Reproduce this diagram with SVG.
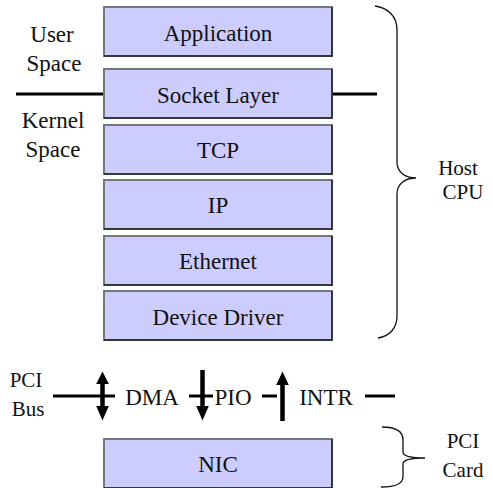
<svg xmlns="http://www.w3.org/2000/svg" width="493" height="488" viewBox="0 0 493 488">
  <style>
    text { font-family: "Liberation Serif", Tinos, "Nimbus Roman", "Nimbus Roman No9 L", "FreeSerif", "Noto Serif", "DejaVu Serif", Times, Georgia, serif; font-size: 23px; fill: #111; }
    .c { text-anchor: middle; }
    .side { font-size: 21px; }
    .box { fill: #ccccff; stroke: #777; stroke-width: 2; }
    .edge { fill: none; stroke: #222; stroke-width: 1.5; }
    .bar { stroke: #000; stroke-width: 3; fill: none; }
    .brace { fill: none; stroke: #111; stroke-width: 1.3; }
    .shaft { stroke: #000; stroke-width: 4.5; }
    .tip { fill: #000; }
  </style>

  <rect width="493" height="488" fill="#fff"/>

  <!-- user/kernel boundary -->
  <g id="boundary">
    <line class="bar" x1="16" y1="94" x2="104" y2="94"/>
    <line class="bar" x1="332" y1="94" x2="377" y2="94"/>
  </g>

  <g id="application">
    <rect class="box" x="104" y="7" width="228" height="49"/>
    <path class="edge" d="M104,56 H332 V7"/>
    <text class="c" x="218" y="41">Application</text>
  </g>
  <g id="socket-layer">
    <rect class="box" x="104" y="69" width="228" height="49"/>
    <path class="edge" d="M104,118 H332 V69"/>
    <text class="c" x="218" y="103">Socket Layer</text>
  </g>
  <g id="tcp">
    <rect class="box" x="104" y="125" width="228" height="49"/>
    <path class="edge" d="M104,174 H332 V125"/>
    <text class="c" x="218" y="158">TCP</text>
  </g>
  <g id="ip">
    <rect class="box" x="104" y="180" width="228" height="49"/>
    <path class="edge" d="M104,229 H332 V180"/>
    <text class="c" x="218" y="213">IP</text>
  </g>
  <g id="ethernet">
    <rect class="box" x="104" y="236" width="228" height="49"/>
    <path class="edge" d="M104,285 H332 V236"/>
    <text class="c" x="218" y="269">Ethernet</text>
  </g>
  <g id="device-driver">
    <rect class="box" x="104" y="291" width="228" height="49"/>
    <path class="edge" d="M104,340 H332 V291"/>
    <text class="c" x="218" y="325">Device Driver</text>
  </g>
  <g id="nic">
    <rect class="box" x="104" y="439" width="228" height="49"/>
    <path class="edge" d="M104,488 H332 V439"/>
    <text class="c" x="218" y="472">NIC</text>
  </g>

  <!-- side labels -->
  <g id="user-space">
    <text class="c" x="52" y="42">User</text>
    <text class="c" x="54" y="71">Space</text>
  </g>
  <g id="kernel-space">
    <text class="c" x="53" y="128">Kernel</text>
    <text class="c" x="53" y="157">Space</text>
  </g>

  <g id="host-cpu">
    <path class="brace" d="M375,6 C388,8 397,16 397,30 V162 C397,172 405,178 416,178 C405,178 397,184 397,194 V316 C397,328 390,336 378,338"/>
    <text class="c side" x="458" y="175">Host</text>
    <text class="c side" x="463" y="199">CPU</text>
  </g>

  <g id="pci-card">
    <path class="brace" d="M382,427 C396,427 403,431 403,440 V452 C403,456 410,458 425,458 C410,458 403,460 403,464 V476 C403,484 396,487 381,487"/>
    <text class="c side" x="463" y="448">PCI</text>
    <text class="c side" x="463" y="477">Card</text>
  </g>

  <g id="pci-bus">
    <text class="c side" x="26" y="387">PCI</text>
    <text class="c side" x="28" y="416">Bus</text>
    <text class="c" x="152" y="405">DMA</text>
    <text class="c" x="233" y="405">PIO</text>
    <text class="c" x="326" y="405">INTR</text>
  </g>

  <!-- bus wires and transfer arrows -->
  <g id="connectors">
    <line class="bar" x1="53" y1="396" x2="115" y2="396"/>
    <line class="bar" x1="189" y1="396" x2="213" y2="396"/>
    <line class="bar" x1="262" y1="396" x2="277" y2="396"/>
    <line class="bar" x1="365" y1="396" x2="395" y2="396"/>
    <!-- DMA: both directions -->
    <line class="shaft" x1="102.5" y1="382" x2="102.5" y2="408"/>
    <polygon class="tip" points="102.5,371.5 108.8,384 96.2,384"/>
    <polygon class="tip" points="102.5,420.5 108.8,406 96.2,406"/>
    <!-- PIO: host to card -->
    <line class="shaft" x1="202.5" y1="370" x2="202.5" y2="408"/>
    <polygon class="tip" points="202.5,420.5 208.8,406 196.2,406"/>
    <!-- INTR: card to host -->
    <line class="shaft" x1="282.5" y1="383" x2="282.5" y2="421"/>
    <polygon class="tip" points="282.5,371.5 288.8,385 276.2,385"/>
  </g>
</svg>
